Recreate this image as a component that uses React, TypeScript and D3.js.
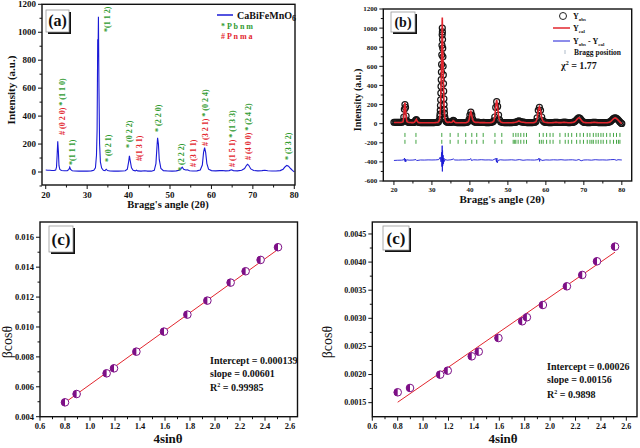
import React from "react";
import * as d3 from "d3";

const FONT = "'Liberation Serif','Times New Roman',serif";
const GREEN = "#2f9a2f";
const RED = "#e2262e";
const BLUE = "#1a1ad6";
const PURPLE = "#7d0f86";

// ---------- Panel (a): XRD pattern ----------
const aTwoTheta = [20.0, 20.5, 21.0, 21.5, 22.0, 22.4, 22.6, 22.75, 22.9, 23.05, 23.2, 23.4, 23.8, 24.5, 25.2, 25.6, 25.8, 26.0, 26.4, 27.0, 28.0, 29.0, 30.0, 31.0, 31.6, 32.0, 32.25, 32.4, 32.55, 32.65, 32.72, 32.85, 33.0, 33.2, 33.5, 33.9, 34.3, 34.6, 34.9, 35.5, 36.5, 37.5, 38.5, 39.2, 39.7, 40.0, 40.2, 40.4, 40.7, 41.1, 41.6, 41.9, 42.2, 43.0, 43.9, 44.6, 45.5, 46.2, 46.6, 46.85, 47.0, 47.2, 47.4, 47.8, 48.4, 49.5, 50.5, 51.5, 52.2, 52.6, 52.95, 53.3, 53.8, 54.2, 54.7, 55.5, 56.5, 57.3, 57.8, 58.1, 58.35, 58.6, 58.9, 59.3, 60.0, 61.0, 62.0, 62.6, 63.4, 64.3, 64.8, 65.3, 66.3, 67.3, 68.0, 68.4, 68.7, 69.0, 69.5, 70.2, 71.2, 72.2, 72.9, 73.6, 74.6, 75.6, 76.6, 77.3, 77.8, 78.2, 78.6, 79.1, 79.6, 80.0];
const aIntensity = [14, 13, 12, 11, 11, 14, 35, 120, 220, 150, 45, 18, 11, 9, 9, 18, 35, 18, 9, 7, 6, 6, 6, 8, 12, 30, 120, 300, 950, 900, 1110, 600, 200, 70, 28, 12, 10, 20, 10, 7, 6, 6, 7, 9, 20, 70, 115, 80, 30, 12, 8, 13, 8, 6, 9, 6, 6, 12, 60, 180, 245, 200, 90, 25, 10, 7, 6, 8, 12, 22, 35, 20, 14, 16, 9, 7, 8, 14, 50, 140, 175, 140, 60, 20, 10, 8, 10, 11, 8, 10, 16, 10, 8, 12, 25, 45, 55, 48, 22, 11, 8, 10, 13, 9, 7, 7, 10, 20, 38, 47, 42, 25, 10, 2];
const aXTicks = [20, 30, 40, 50, 60, 70, 80];
const aXMinor = [25, 35, 45, 55, 65, 75];
const aYTicks = [0, 200, 400, 600, 800, 1000, 1200];
const aYMinor = [-100, 100, 300, 500, 700, 900, 1100];
const aLabels: { x: number; y: number; parts: [string, string][] }[] = [
  { x: 24.0, y: 265, parts: [["# (0 2 0)", "r"], [" * (1 1 0)", "g"]] },
  { x: 26.5, y: 50, parts: [["*(1 1 1)", "g"]] },
  { x: 34.9, y: 1002, parts: [["*(1 1 2)", "g"]] },
  { x: 35.1, y: 72, parts: [["* (0 2 1)", "g"]] },
  { x: 40.2, y: 172, parts: [["* (0 2 2)", "g"]] },
  { x: 42.5, y: 79, parts: [["#(1 3 1)", "r"]] },
  { x: 47.1, y: 286, parts: [["* (2 2 0)", "g"]] },
  { x: 52.6, y: 7, parts: [["* (2 2 2)", "g"]] },
  { x: 55.5, y: 36, parts: [["# (3 1 1)", "r"]] },
  { x: 58.4, y: 186, parts: [["# (3 2 1)", "r"], [" * (0 2 4)", "g"]] },
  { x: 65.0, y: 36, parts: [["# (1 5 1)", "r"], [" * (1 3 3)", "g"]] },
  { x: 68.9, y: 86, parts: [["# (4 0 0)", "r"], [" * (2 4 2)", "g"]] },
  { x: 78.6, y: 86, parts: [["* (3 3 2)", "g"]] },
];

// ---------- Panel (b): Rietveld refinement ----------
const bTwoTheta = [
  20.0, 20.3, 20.6, 20.9, 21.2, 21.5, 21.8, 22.1, 22.4, 22.6,
  22.75, 22.9, 23.05, 23.2, 23.4, 23.7, 24.0, 24.3, 24.6, 24.9,
  25.2, 25.45, 25.7, 25.9, 26.1, 26.4, 26.7, 27.0, 27.3, 27.6,
  27.9, 28.2, 28.5, 28.8, 29.1, 29.4, 29.7, 30.0, 30.3, 30.6,
  30.9, 31.2, 31.5, 31.75, 32.0, 32.1, 32.15, 32.2, 32.25, 32.3,
  32.35, 32.4, 32.45, 32.5, 32.55, 32.6, 32.65, 32.7, 32.73, 32.76,
  32.8, 32.85, 32.9, 32.95, 33.0, 33.05, 33.1, 33.15, 33.2, 33.25,
  33.3, 33.4, 33.5, 33.7, 33.9, 34.1, 34.35, 34.6, 34.8, 35.0,
  35.2, 35.4, 35.6, 35.8, 36.0, 36.3, 36.6, 36.9, 37.2, 37.5,
  37.8, 38.1, 38.4, 38.7, 39.0, 39.3, 39.6, 39.8, 40.0, 40.25,
  40.5, 40.7, 40.9, 41.2, 41.5, 41.8, 42.1, 42.4, 42.7, 43.0,
  43.3, 43.6, 43.9, 44.2, 44.5, 44.8, 45.1, 45.4, 45.7, 46.0,
  46.3, 46.55, 46.8, 47.05, 47.3, 47.55, 47.8, 48.1, 48.4, 48.7,
  49.0, 49.3, 49.6, 49.9, 50.2, 50.5, 50.8, 51.1, 51.4, 51.7,
  52.0, 52.3, 52.6, 52.9, 53.2, 53.5, 53.8, 54.1, 54.4, 54.7,
  55.0, 55.3, 55.6, 55.9, 56.2, 56.5, 56.8, 57.1, 57.4, 57.7,
  58.0, 58.3, 58.6, 58.9, 59.2, 59.5, 59.8, 60.1, 60.4, 60.7,
  61.0, 61.3, 61.6, 61.9, 62.2, 62.5, 62.8, 63.1, 63.4, 63.7,
  64.0, 64.3, 64.6, 64.9, 65.2, 65.5, 65.8, 66.1, 66.4, 66.7,
  67.0, 67.3, 67.6, 67.9, 68.2, 68.5, 68.75, 69.0, 69.3, 69.6,
  69.9, 70.2, 70.5, 70.8, 71.1, 71.4, 71.7, 72.0, 72.3, 72.6,
  72.9, 73.2, 73.5, 73.8, 74.1, 74.4, 74.7, 75.0, 75.3, 75.6,
  75.9, 76.2, 76.5, 76.8, 77.1, 77.4, 77.7, 78.0, 78.3, 78.6,
  78.9, 79.2, 79.5, 79.8, 80.0,
];
const bObs = [
  15, 14, 14, 13, 13, 13, 14, 15, 25, 70,
  150, 200, 170, 80, 30, 16, 13, 12, 12, 12,
  13, 18, 35, 42, 30, 14, 12, 11, 10, 10,
  10, 10, 10, 10, 10, 10, 10, 10, 11, 11,
  12, 13, 15, 20, 40, 75, 100, 140, 190, 250,
  320, 390, 460, 540, 620, 720, 820, 930, 1000, 960,
  880, 790, 700, 600, 510, 420, 340, 260, 200, 150,
  110, 70, 45, 25, 18, 15, 15, 18, 15, 14,
  15, 20, 35, 30, 18, 12, 11, 10, 10, 10,
  10, 10, 11, 11, 12, 15, 25, 45, 90, 120,
  90, 50, 30, 18, 15, 15, 16, 14, 12, 12,
  12, 13, 12, 11, 11, 11, 11, 12, 14, 18,
  30, 70, 170, 230, 180, 90, 40, 20, 14, 12,
  11, 10, 10, 10, 10, 10, 10, 11, 12, 13,
  15, 18, 24, 30, 25, 20, 17, 17, 14, 12,
  11, 10, 10, 10, 11, 11, 12, 15, 22, 60,
  140, 170, 140, 70, 32, 20, 15, 13, 12, 11,
  11, 10, 11, 12, 13, 15, 15, 13, 12, 12,
  12, 13, 15, 16, 14, 13, 11, 11, 11, 12,
  13, 16, 22, 32, 45, 58, 62, 55, 40, 25,
  17, 13, 12, 11, 10, 10, 11, 12, 13, 14,
  14, 13, 12, 11, 11, 11, 10, 10, 10, 10,
  11, 12, 14, 18, 25, 38, 50, 57, 60, 55,
  45, 32, 18, 6, 2,
];
const bCal = [
  12, 12, 12, 12, 12, 12, 13, 14, 20, 70,
  170, 220, 165, 70, 25, 15, 12, 12, 11, 11,
  12, 16, 35, 45, 28, 13, 11, 10, 10, 10,
  9, 9, 9, 9, 9, 9, 10, 10, 10, 10,
  11, 12, 14, 18, 40, 70, 95, 130, 180, 240,
  310, 390, 470, 560, 660, 780, 900, 1050, 1110, 1040,
  900, 780, 680, 580, 490, 400, 320, 250, 190, 140,
  100, 62, 40, 22, 16, 14, 14, 17, 14, 13,
  14, 18, 33, 28, 16, 11, 10, 10, 9, 9,
  9, 9, 10, 10, 11, 14, 22, 42, 95, 125,
  85, 45, 27, 16, 13, 13, 14, 12, 11, 11,
  11, 12, 11, 10, 10, 10, 10, 11, 13, 16,
  28, 70, 190, 250, 175, 80, 36, 18, 13, 11,
  10, 10, 9, 9, 9, 9, 10, 10, 11, 12,
  14, 17, 22, 28, 23, 18, 15, 15, 13, 11,
  10, 10, 10, 10, 10, 10, 11, 14, 20, 55,
  140, 175, 135, 65, 30, 18, 14, 12, 11, 10,
  10, 10, 10, 11, 12, 14, 14, 12, 11, 11,
  11, 12, 14, 15, 13, 12, 10, 10, 10, 11,
  12, 14, 20, 30, 45, 58, 63, 53, 38, 23,
  15, 12, 11, 10, 10, 9, 10, 11, 12, 13,
  13, 12, 11, 10, 10, 10, 9, 9, 9, 9,
  10, 11, 13, 16, 23, 35, 48, 57, 60, 53,
  42, 30, 16, 5, 1,
];
const dTwoTheta = [20, 21, 22, 22.6, 22.8, 22.9, 23.0, 23.1, 23.3, 24, 25, 25.8, 26, 27, 28, 29, 30, 31, 31.8, 32.2, 32.4, 32.55, 32.65, 32.7, 32.75, 32.8, 32.85, 32.95, 33.05, 33.15, 33.3, 33.5, 34, 35, 35.7, 36, 37, 38, 39, 40, 40.2, 40.4, 41, 42, 43, 44, 45, 46, 46.8, 47.0, 47.1, 47.2, 47.4, 48, 49, 50, 51, 52, 53, 54, 55, 56, 57, 58, 58.2, 58.35, 58.5, 59, 60, 61, 62, 63, 64, 65, 66, 67, 68, 68.7, 69.3, 70, 71, 72, 73, 74, 75, 76, 77, 78, 78.6, 79, 80];
const dDiff = [-385, -383, -382, -378, -360, -395, -370, -400, -378, -382, -381, -376, -386, -380, -381, -379, -380, -379, -376, -350, -400, -300, -450, -230, -500, -280, -440, -330, -420, -360, -395, -375, -382, -378, -370, -380, -381, -379, -380, -375, -365, -385, -378, -380, -377, -380, -379, -382, -365, -400, -360, -410, -385, -378, -381, -380, -378, -382, -376, -383, -379, -380, -381, -376, -360, -395, -370, -385, -379, -381, -378, -380, -377, -381, -379, -378, -383, -375, -388, -380, -379, -382, -377, -380, -379, -381, -377, -375, -383, -377, -380];
const braggRow1 = [22.9, 25.8, 32.6, 34.8, 36.9, 38.9, 40.5, 41.8, 43.5, 46.6, 48.4, 51.4, 52.1, 52.7, 53.4, 54.2, 54.9, 58.3, 59.3, 60.2, 61.1, 61.9, 63.7, 65.1, 65.9, 66.8, 68.1, 69.0, 69.9, 70.9, 71.6, 72.5, 73.2, 73.8, 74.5, 75.1, 76.0, 76.9, 77.8, 78.6, 79.5];
const braggRow2 = [22.9, 25.8, 32.6, 34.8, 36.9, 38.9, 40.5, 41.8, 43.5, 46.6, 48.4, 51.4, 51.8, 52.1, 52.7, 53.4, 54.2, 54.9, 58.3, 58.8, 59.3, 60.2, 61.1, 61.9, 63.7, 65.1, 65.9, 66.8, 68.1, 69.0, 69.9, 70.9, 71.6, 72.1, 72.5, 73.2, 73.8, 74.5, 75.1, 76.0, 76.9, 77.8, 78.6, 79.1, 79.5];
const braggY = [-118, -190];
const bXTicks = [20, 30, 40, 50, 60, 70, 80];
const bXMinor = [25, 35, 45, 55, 65, 75];
const bYTicks = [-600, -400, -200, 0, 200, 400, 600, 800, 1000, 1200];
const bYMinor = [-500, -300, -100, 100, 300, 500, 700, 900, 1100];

// ---------- Panel (c): Williamson–Hall ----------
const cFourSin = [0.80, 0.893, 1.133, 1.192, 1.371, 1.592, 1.779, 1.939, 2.125, 2.245, 2.365, 2.504];
const cBetaCos = [0.00496, 0.005517, 0.0069, 0.007234, 0.00835, 0.00969, 0.010826, 0.011763, 0.012967, 0.013726, 0.014484, 0.015332];
const cIntercept = 0.000139;
const cSlope = 0.00601;
const cXTicks = [0.6, 0.8, 1.0, 1.2, 1.4, 1.6, 1.8, 2.0, 2.2, 2.4, 2.6];
const cXMinor = [0.7, 0.9, 1.1, 1.3, 1.5, 1.7, 1.9, 2.1, 2.3, 2.5];
const cYTicks = [0.004, 0.006, 0.008, 0.010, 0.012, 0.014, 0.016];
const cYMinor = [0.005, 0.007, 0.009, 0.011, 0.013, 0.015];

// ---------- Panel (d): Williamson–Hall ----------
const dFourSin = [0.80, 0.897, 1.134, 1.194, 1.383, 1.438, 1.593, 1.780, 1.817, 1.943, 2.132, 2.253, 2.369, 2.511];
const dBetaCos = [0.001684, 0.001761, 0.001998, 0.002069, 0.002324, 0.002407, 0.00265, 0.002947, 0.003018, 0.003237, 0.003569, 0.003771, 0.004014, 0.004275];
const dIntercept = 0.00026;
const dSlope = 0.00156;
const dXTicks = cXTicks;
const dXMinor = cXMinor;
const dYTicks = [0.0015, 0.0020, 0.0025, 0.0030, 0.0035, 0.0040, 0.0045];
const dYMinor = [0.00175, 0.00225, 0.00275, 0.00325, 0.00375, 0.00425];

type Sc = d3.ScaleLinear<number, number>;

function Axes(p: {
  x: Sc; y: Sc; xMajor: number[]; xMinor: number[]; yMajor: number[]; yMinor: number[];
  xFmt: (v: number) => string; yFmt: (v: number) => string; fs: number; sw?: number;
}) {
  const [x0, x1] = p.x.range();
  const [y0, y1] = p.y.range(); // y0 bottom, y1 top
  const sw = p.sw ?? 1.3;
  return (
    <g fontFamily={FONT} fontWeight="bold" fontSize={p.fs} fill="#111">
      {p.xMajor.map((v) => (
        <g key={"xm" + v}>
          <line x1={p.x(v)} x2={p.x(v)} y1={y0} y2={y0 + 4} stroke="#111" strokeWidth={1} />
          <text x={p.x(v)} y={y0 + 4 + p.fs} textAnchor="middle">{p.xFmt(v)}</text>
        </g>
      ))}
      {p.xMinor.map((v) => (
        <line key={"xn" + v} x1={p.x(v)} x2={p.x(v)} y1={y0} y2={y0 + 2.5} stroke="#111" strokeWidth={1} />
      ))}
      {p.yMajor.map((v) => (
        <g key={"ym" + v}>
          <line x1={x0 - 4} x2={x0} y1={p.y(v)} y2={p.y(v)} stroke="#111" strokeWidth={1} />
          <text x={x0 - 6} y={p.y(v) + p.fs * 0.35} textAnchor="end">{p.yFmt(v)}</text>
        </g>
      ))}
      {p.yMinor.map((v) => (
        <line key={"yn" + v} x1={x0 - 2.5} x2={x0} y1={p.y(v)} y2={p.y(v)} stroke="#111" strokeWidth={1} />
      ))}
      <rect x={x0} y={y1} width={x1 - x0} height={y0 - y1} fill="none" stroke="#111" strokeWidth={sw} />
    </g>
  );
}

function LabelBox({ x, y, w, h, text, fs }: { x: number; y: number; w: number; h: number; text: string; fs: number }) {
  return (
    <g>
      <rect x={x + 2} y={y + 2} width={w} height={h} fill="#111" />
      <rect x={x} y={y} width={w} height={h} fill="#fff" stroke="#999" strokeWidth={0.8} />
      <text x={x + w / 2} y={y + h / 2 + fs * 0.34} textAnchor="middle" fontFamily={FONT} fontWeight="bold" fontSize={fs} fill="#111">{text}</text>
    </g>
  );
}

function HalfCircle({ cx, cy, r }: { cx: number; cy: number; r: number }) {
  return (
    <g>
      <circle cx={cx} cy={cy} r={r} fill="#fff" stroke={PURPLE} strokeWidth={1} />
      <path d={`M${cx},${cy - r} A${r},${r} 0 0 0 ${cx},${cy + r} Z`} fill={PURPLE} />
    </g>
  );
}

export default function App() {
  const xA = d3.scaleLinear().domain([19.1, 80.17]).range([42, 295]);
  const yA = d3.scaleLinear().domain([-93, 1200]).range([185, 4.3]);
  const lineA = d3.line<number>().x((_, i) => xA(aTwoTheta[i])).y((d) => yA(d));

  const xB = d3.scaleLinear().domain([17.2, 82.6]).range([383.3, 631.7]);
  const yB = d3.scaleLinear().domain([-600, 1200]).range([181, 9]);
  const lineCal = d3.line<number>().x((_, i) => xB(bTwoTheta[i])).y((d) => yB(d));
  const lineDiff = d3.line<number>().x((_, i) => xB(dTwoTheta[i])).y((d) => yB(d));

  const xC = d3.scaleLinear().domain([0.6, 2.66]).range([40, 297.5]);
  const yC = d3.scaleLinear().domain([0.004, 0.01702]).range([416.7, 222]);
  const xD = d3.scaleLinear().domain([0.6, 2.684]).range([372.3, 637]);
  const yD = d3.scaleLinear().domain([0.00125, 0.004713]).range([416.7, 222]);

  const colorOf = (c: string) => (c === "r" ? RED : GREEN);
  const fmtInt = (v: number) => String(v);

  return (
    <svg width={640} height={448} style={{ position: "absolute", left: 0, top: 0, background: "#fff" }}>
      <rect width={640} height={448} fill="#fff" />

      {/* ================= Panel (a) ================= */}
      <path d={lineA(aIntensity) || ""} fill="none" stroke={BLUE} strokeWidth={1.1} />
      <Axes x={xA} y={yA} xMajor={aXTicks} xMinor={aXMinor} yMajor={aYTicks} yMinor={aYMinor} xFmt={fmtInt} yFmt={fmtInt} fs={9} sw={1.4} />
      {aLabels.map((l, i) => (
        <text key={i} transform={`translate(${xA(l.x) + 2.8},${yA(l.y)}) rotate(-90)`} fontFamily={FONT} fontWeight="bold" fontSize={8} style={{ whiteSpace: "pre" }}>
          {l.parts.map((p, j) => (
            <tspan key={j} fill={colorOf(p[1])}>{p[0]}</tspan>
          ))}
        </text>
      ))}
      <LabelBox x={46} y={10} w={23} h={22} text="(a)" fs={16} />
      <line x1={217} x2={233} y1={15} y2={15} stroke={BLUE} strokeWidth={1.5} />
      <text x={237} y={18.5} fontFamily={FONT} fontWeight="bold" fontSize={10} fill="#111">
        CaBiFeMnO<tspan fontSize={8} dy={2.5}>6</tspan>
      </text>
      <text x={221} y={28.5} fontFamily={FONT} fontWeight="bold" fontSize={8} fill={GREEN} style={{ whiteSpace: "pre" }}>* P b n m</text>
      <text x={221} y={39} fontFamily={FONT} fontWeight="bold" fontSize={8} fill={RED} style={{ whiteSpace: "pre" }}># P n m a</text>
      <text x={168} y={207.5} textAnchor="middle" fontFamily={FONT} fontWeight="bold" fontSize={10.5} fill="#111">Bragg's angle (2θ)</text>
      <text transform="translate(15,90) rotate(-90)" textAnchor="middle" fontFamily={FONT} fontWeight="bold" fontSize={11} fill="#111">Intensity (a.u.)</text>

      {/* ================= Panel (b) ================= */}
      {bTwoTheta.map((t, i) => (
        <circle key={i} cx={xB(t)} cy={yB(bObs[i])} r={3} fill="none" stroke="#161616" strokeWidth={1.2} />
      ))}
      <path d={lineCal(bCal) || ""} fill="none" stroke={RED} strokeWidth={1.6} />
      {[braggRow1, braggRow2].map((row, r) =>
        row.map((t, i) => (
          <line key={r + "-" + i} x1={xB(t)} x2={xB(t)} y1={yB(braggY[r]) - 2} y2={yB(braggY[r]) + 2} stroke="#2e9a2e" strokeWidth={0.9} />
        ))
      )}
      <path d={lineDiff(dDiff) || ""} fill="none" stroke={BLUE} strokeWidth={0.9} />
      <Axes x={xB} y={yB} xMajor={bXTicks} xMinor={bXMinor} yMajor={bYTicks} yMinor={bYMinor} xFmt={fmtInt} yFmt={fmtInt} fs={7} sw={1.4} />
      <LabelBox x={391} y={12} w={24} h={20} text="(b)" fs={14} />
      <g fontFamily={FONT} fontWeight="bold" fill="#111">
        <circle cx={563} cy={16} r={3.5} fill="none" stroke="#222" strokeWidth={1} />
        <text x={573} y={19} fontSize={8}>Y<tspan fontSize={5} dy={2}>obs</tspan></text>
        <line x1={553} x2={570} y1={28} y2={28} stroke={RED} strokeWidth={1.5} />
        <text x={573} y={31} fontSize={8}>Y<tspan fontSize={5} dy={2}>cal</tspan></text>
        <line x1={553} x2={570} y1={41} y2={41} stroke={BLUE} strokeWidth={1} />
        <text x={573} y={44} fontSize={8} style={{ whiteSpace: "pre" }}>Y<tspan fontSize={5} dy={2}>obs</tspan><tspan dy={-2}> - Y</tspan><tspan fontSize={5} dy={2}>cal</tspan></text>
        <line x1={565} x2={565} y1={50} y2={54} stroke="#9ab" strokeWidth={0.8} />
        <text x={574} y={55} fontSize={7.5}>Bragg position</text>
        <text x={561} y={69} fontSize={10}>χ<tspan fontSize={6} dy={-4}>2</tspan><tspan dy={4}> = 1.77</tspan></text>
      </g>
      <text x={502} y={203} textAnchor="middle" fontFamily={FONT} fontWeight="bold" fontSize={11} fill="#111">Bragg's angle (2θ)</text>
      <text transform="translate(361,100) rotate(-90)" textAnchor="middle" fontFamily={FONT} fontWeight="bold" fontSize={10} fill="#111">Intensity (a.u.)</text>

      {/* ================= Panel (c) ================= */}
      <line x1={xC(cFourSin[0])} y1={yC(cIntercept + cSlope * cFourSin[0])} x2={xC(cFourSin[cFourSin.length - 1])} y2={yC(cIntercept + cSlope * cFourSin[cFourSin.length - 1])} stroke={RED} strokeWidth={1} />
      {cFourSin.map((v, i) => (
        <HalfCircle key={i} cx={xC(v)} cy={yC(cBetaCos[i])} r={3.8} />
      ))}
      <Axes x={xC} y={yC} xMajor={cXTicks} xMinor={cXMinor} yMajor={cYTicks} yMinor={cYMinor} xFmt={(v) => v.toFixed(1)} yFmt={(v) => v.toFixed(3)} fs={8.5} sw={1.4} />
      <LabelBox x={49} y={226} w={24} h={26} text="(c)" fs={17} />
      <g fontFamily={FONT} fontWeight="bold" fontSize={10} fill="#111">
        <text x={210} y={364}>Intercept = 0.000139</text>
        <text x={210} y={377}>slope = 0.00601</text>
        <text x={210} y={391}>R<tspan fontSize={6} dy={-4}>2</tspan><tspan dy={4}> = 0.99985</tspan></text>
      </g>
      <text x={168} y={443} textAnchor="middle" fontFamily={FONT} fontWeight="bold" fontSize={13} fill="#111">4sinθ</text>
      <text transform="translate(12,342) rotate(-90)" textAnchor="middle" fontFamily={FONT} fontSize={14} fill="#111">βcosθ</text>

      {/* ================= Panel (d) ================= */}
      <line x1={xD(dFourSin[0])} y1={yD(dIntercept + dSlope * dFourSin[0])} x2={xD(dFourSin[dFourSin.length - 1])} y2={yD(dIntercept + dSlope * dFourSin[dFourSin.length - 1])} stroke={RED} strokeWidth={1} />
      {dFourSin.map((v, i) => (
        <HalfCircle key={i} cx={xD(v)} cy={yD(dBetaCos[i])} r={3.8} />
      ))}
      <Axes x={xD} y={yD} xMajor={dXTicks} xMinor={dXMinor} yMajor={dYTicks} yMinor={dYMinor} xFmt={(v) => v.toFixed(1)} yFmt={(v) => v.toFixed(4)} fs={8} sw={1.4} />
      <LabelBox x={383} y={226} w={26} h={24} text="(c)" fs={17} />
      <g fontFamily={FONT} fontWeight="bold" fontSize={10} fill="#111">
        <text x={547} y={370}>Intercept = 0.00026</text>
        <text x={547} y={383}>slope = 0.00156</text>
        <text x={547} y={398}>R<tspan fontSize={6} dy={-4}>2</tspan><tspan dy={4}> = 0.9898</tspan></text>
      </g>
      <text x={503} y={443} textAnchor="middle" fontFamily={FONT} fontWeight="bold" fontSize={13} fill="#111">4sinθ</text>
      <text transform="translate(332,342) rotate(-90)" textAnchor="middle" fontFamily={FONT} fontSize={14} fill="#111">βcosθ</text>
    </svg>
  );
}
